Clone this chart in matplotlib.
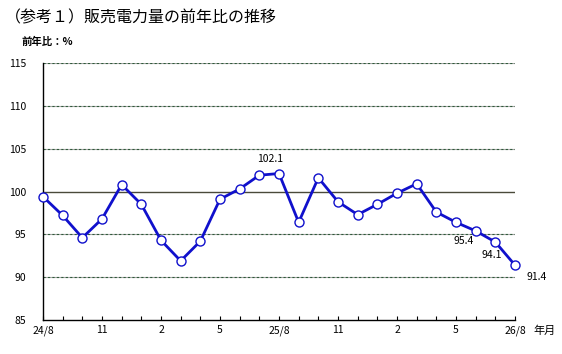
import matplotlib
matplotlib.use("Agg")
import matplotlib.pyplot as plt

plt.rcParams['font.family'] = ['Noto Sans CJK JP', 'DejaVu Sans']

months = list(range(25))
values = [99.4, 97.2, 94.6, 96.8, 100.8, 98.5, 94.3, 91.9, 94.2, 99.1, 100.3, 101.9,
          102.1, 96.4, 101.6, 98.8, 97.3, 98.5, 99.8, 100.9, 97.6, 96.4, 95.4, 94.1, 91.4]
tick_pos = [0, 3, 6, 9, 12, 15, 18, 21, 24]
tick_labels = ['24/8', '11', '2', '5', '25/8', '11', '2', '5', '26/8']
labeled = {12: (-9, 15), 22: (-12, -10), 23: (-4, -13), 24: (22, -12)}

fig = plt.figure(figsize=(5.62, 3.54), dpi=100)
ax = fig.add_axes([43/562, 1-320/354, (515-43)/562, (320-63)/354])

for yv in [90, 95, 105, 110, 115]:
    ax.axhline(yv, color='#a8a8a8', lw=0.8, zorder=1)
    ax.axhline(yv, color='#2f5a3a', lw=0.8, ls=(0, (2, 2)), zorder=1)
ax.axhline(100, color='#4a4a3a', lw=1.0, zorder=1)

ax.plot(months, values, color='#1010cc', lw=2.0, marker='o', ms=6.5,
        mfc='white', mec='#1010cc', mew=1.0, zorder=3, clip_on=False)

for i, (dx, dy) in labeled.items():
    ax.annotate(f'{values[i]:.1f}', (months[i], values[i]), xytext=(dx, dy),
                textcoords='offset pixels', ha='center', va='center', fontsize=7.5)

ax.set_xlim(0, 24)
ax.set_ylim(85, 115)
ax.set_yticks([85, 90, 95, 100, 105, 110, 115])
ax.set_xticks(months, minor=False)
ax.set_xticklabels(['' for _ in months])
for p, l in zip(tick_pos, tick_labels):
    ax.text(p, 84.4, l, ha='center', va='top', fontsize=7.5, transform=ax.transData)
ax.tick_params(axis='x', direction='in', length=3, width=0.8, pad=2)
ax.tick_params(axis='y', length=0, pad=12, labelsize=7.5)
for s in ['top', 'right']:
    ax.spines[s].set_visible(False)
for s in ['left', 'bottom']:
    ax.spines[s].set_linewidth(1.0)
    ax.spines[s].set_color('black')

fig.text(5/562, 1-18/354, '（参考１）販売電力量の前年比の推移', fontsize=11.5, va='center', ha='left')
fig.text(22/562, 1-42/354, '前年比：%', fontsize=7.5, va='center', ha='left', fontweight='bold')
fig.text(533/562, 1-331/354, '年月', fontsize=8, va='center', ha='left')

fig.savefig('out.png', dpi=100)
